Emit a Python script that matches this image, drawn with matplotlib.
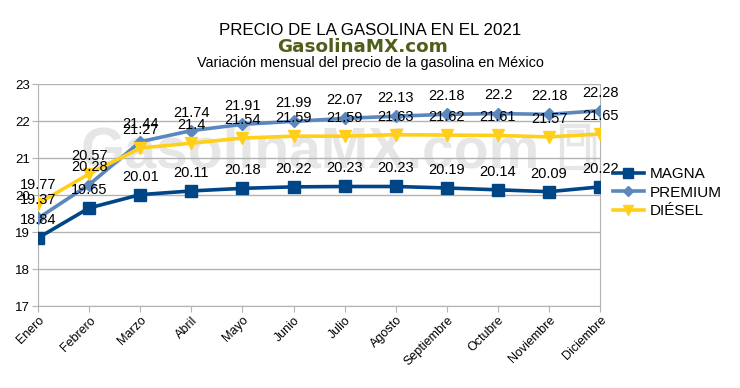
import matplotlib
matplotlib.use("Agg")
import matplotlib.pyplot as plt
from matplotlib.patches import Rectangle

plt.rcParams['font.family'] = ['Liberation Sans', 'DejaVu Sans']

months = ["Enero", "Febrero", "Marzo", "Abril", "Mayo", "Junio", "Julio",
          "Agosto", "Septiembre", "Octubre", "Noviembre", "Diciembre"]
magna = [18.84, 19.65, 20.01, 20.11, 20.18, 20.22, 20.23, 20.23, 20.19, 20.14, 20.09, 20.22]
premium = [19.37, 20.28, 21.44, 21.74, 21.91, 21.99, 22.07, 22.13, 22.18, 22.2, 22.18, 22.28]
diesel = [19.77, 20.57, 21.27, 21.4, 21.54, 21.59, 21.59, 21.63, 21.62, 21.61, 21.57, 21.65]
yticks = [17, 18, 19, 20, 21, 22, 23]

fig = plt.figure(figsize=(7.4, 3.88), dpi=100)
ax = fig.add_axes([0.0514, 0.2113, 0.7596, 0.5722])

x = list(range(len(months)))
series = [
    ("MAGNA", magna, "#004586", "s", 9),
    ("PREMIUM", premium, "#5b87bf", "D", 6),
    ("DIÉSEL", diesel, "#ffcf1a", "v", 9),
]
for name, vals, col, mk, ms in series:
    ax.plot(x, vals, color=col, lw=2.6, marker=mk, markersize=ms, label=name, zorder=3)
for name, vals, col, mk, ms in series:
    for xi, v in zip(x, vals):
        ax.annotate(f"{v:g}", (xi, v), xytext=(0, 8), textcoords="offset points",
                    ha="center", va="bottom", fontsize=10.5, color="black", zorder=5)

ax.set_xlim(0, len(months) - 1)
ax.set_ylim(17, 23)
ax.set_yticks(yticks)
ax.set_yticklabels([str(t) for t in yticks], fontsize=9.5)
ax.set_xticks(x)
ax.set_xticklabels(months, rotation=45, ha="right", rotation_mode="anchor", fontsize=9)
ax.grid(axis="y", color="#b3b3b3", lw=1)
ax.set_axisbelow(True)
ax.spines["top"].set_visible(False)
for s in ["left", "right", "bottom"]:
    ax.spines[s].set_color("#b3b3b3")
ax.tick_params(axis="both", color="#b3b3b3", length=4, pad=2)

# watermark
wm = "#e6e6e6"
ax.text(0.484, 0.626, "GasolinaMX.com", transform=ax.transAxes, ha="center", va="baseline",
        fontsize=41, fontweight="bold", color=wm, zorder=0)
ax.add_patch(Rectangle((0.933, 0.62), 0.045, 0.19, transform=ax.transAxes, fill=False,
                       edgecolor=wm, lw=3, zorder=0))
ax.add_patch(Rectangle((0.943, 0.73), 0.025, 0.06, transform=ax.transAxes, fill=False,
                       edgecolor=wm, lw=2.5, zorder=0))
ax.plot([0.978, 0.99, 0.99, 0.982], [0.78, 0.76, 0.64, 0.64], transform=ax.transAxes,
        color=wm, lw=2.5, zorder=0)

fig.text(0.5, 0.921, "PRECIO DE LA GASOLINA EN EL 2021", ha="center", va="center", fontsize=12.2)
fig.text(0.49, 0.878, "GasolinaMX.com", ha="center", va="center", fontsize=13.2,
         fontweight="bold", color="#4f5f1a", family="DejaVu Sans")
fig.text(0.501, 0.837, "Variación mensual del precio de la gasolina en México", ha="center",
         va="center", fontsize=10.4)

ax.legend(loc="center left", bbox_to_anchor=(1.012, 0.51), frameon=False, fontsize=11,
          handlelength=2.0, labelspacing=0.3, handletextpad=0.4, borderaxespad=0,
          markerscale=0.8)

fig.savefig("out.png", dpi=100)
